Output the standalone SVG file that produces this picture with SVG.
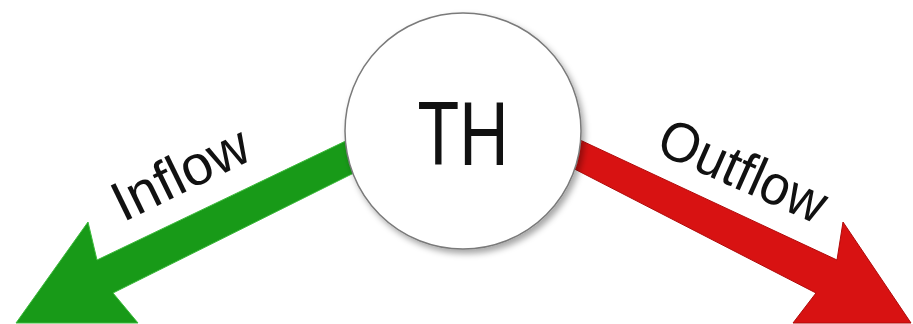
<svg xmlns="http://www.w3.org/2000/svg" width="913" height="324" viewBox="0 0 913 324">
  <defs>
    <filter id="shadow" x="-20%" y="-20%" width="140%" height="140%">
      <feDropShadow dx="3" dy="4" stdDeviation="3" flood-color="#000" flood-opacity="0.35"/>
    </filter>
  </defs>
  <style>
    .label { font-family: "Liberation Sans", Arial, sans-serif; fill: #111; }
    .in { fill: #189a18; stroke: #3dbb3d; stroke-width: 1; stroke-linejoin: miter; }
    .out { fill: #d81212; stroke: #b00a0a; stroke-width: 1; stroke-linejoin: miter; }
    .node { fill: #ffffff; stroke: #7a7a7a; stroke-width: 1.5; }
  </style>
  <rect x="0" y="0" width="913" height="324" fill="#ffffff"/>
  <g id="connectors">
    <polygon id="inflow-arrow" class="in" points="400,115 97,260 88,222 16,323 138,323 113,293 400,150"/>
    <polygon id="outflow-arrow" class="out" points="520,112 837,260 843,222 911,323 793,323 816,293 520,141"/>
  </g>
  <g id="node-th">
    <circle class="node" cx="463" cy="131" r="118" filter="url(#shadow)"/>
    <text class="label" x="463" y="165" font-size="90" text-anchor="middle" textLength="91" lengthAdjust="spacingAndGlyphs">TH</text>
  </g>
  <g id="label-inflow">
    <text class="label" transform="translate(123,222.5) rotate(-26)" font-size="56" textLength="146" lengthAdjust="spacingAndGlyphs">Inflow</text>
  </g>
  <g id="label-outflow">
    <text class="label" transform="translate(654,152) rotate(24)" font-size="56" textLength="178" lengthAdjust="spacingAndGlyphs">Outflow</text>
  </g>
</svg>
